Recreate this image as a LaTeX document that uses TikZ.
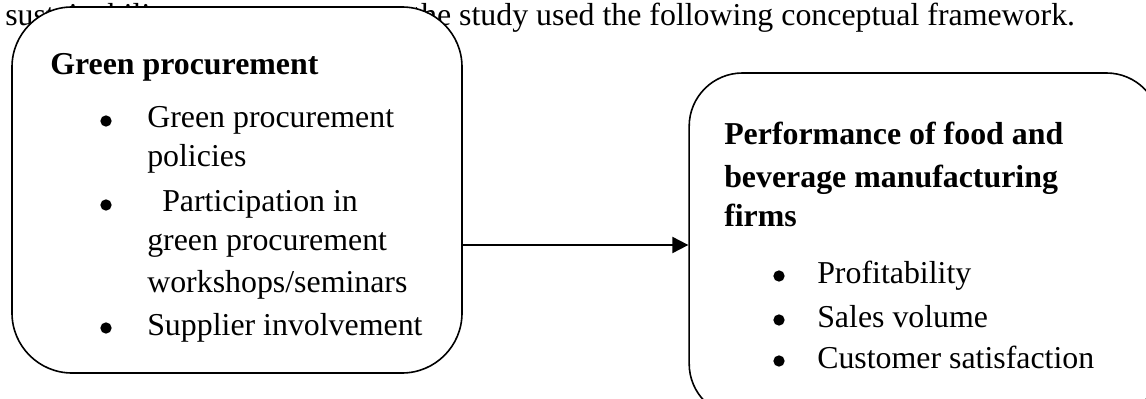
\documentclass[tikz,border=0pt]{standalone}
\usepackage{fontspec}
\setmainfont{Liberation Serif}
\usetikzlibrary{arrows.meta}

\tikzset{
  framebox/.style={draw, line width=1.2pt, rounded corners=45pt, fill=white},
  txt/.style={anchor=base west, inner sep=0pt, font=\fontsize{23.9}{31}\selectfont},
  head/.style={txt, font=\fontsize{23.9}{31}\selectfont\bfseries},
  dot/.style={circle, fill, inner sep=0pt, minimum size=8.5pt},
  flow/.style={line width=1.5pt, -{Triangle[length=12pt,width=12pt]}}
}

\begin{document}
\begin{tikzpicture}[x=0.75pt,y=-0.75pt]
  \useasboundingbox (0,0) rectangle (1146,399);
  \clip (0,0) rectangle (1146,399);
  % running text behind the frames
  \node[txt] (introleft) at (5,26) {sustainability};
  \node[txt] (introright) at (412,26) {the study used the following conceptual framework.};
  % the two frames
  \node[framebox, minimum width=337.5pt, minimum height=274.5pt] (greenproc) at (237,190) {};
  \node[framebox, rounded corners=40pt, minimum width=353pt, minimum height=258pt] (performance) at (924.5,245) {};
  % left frame
  \node[head] (gptitle) at (50,75) {Green procurement};
  \foreach \y in {128,212,335}
    \node[dot] (gpbullet\y) at (106,\y-7) {};
  \node[txt] (gpa) at (147,128) {Green procurement};
  \node[txt] (gpb) at (147,167) {policies};
  \node[txt] (gpc) at (162,212) {Participation in};
  \node[txt] (gpd) at (147,250) {green procurement};
  \node[txt] (gpe) at (147,292) {workshops/seminars};
  \node[txt] (gpf) at (147,335) {Supplier involvement};
  % right frame
  \node[head] (pfa) at (724,145) {Performance of food and};
  \node[head] (pfb) at (724,188) {beverage manufacturing};
  \node[head] (pfc) at (724,227) {firms};
  \foreach \y in {283,327,368}
    \node[dot] (pfbullet\y) at (779,\y-7) {};
  \node[txt] (pfd) at (817,283) {Profitability};
  \node[txt] (pfe) at (817,327) {Sales volume};
  \node[txt] (pff) at (817,368) {Customer satisfaction};
  % relation
  \draw[flow] (greenproc.east |- performance.west) -- (performance.west);
\end{tikzpicture}
\end{document}
